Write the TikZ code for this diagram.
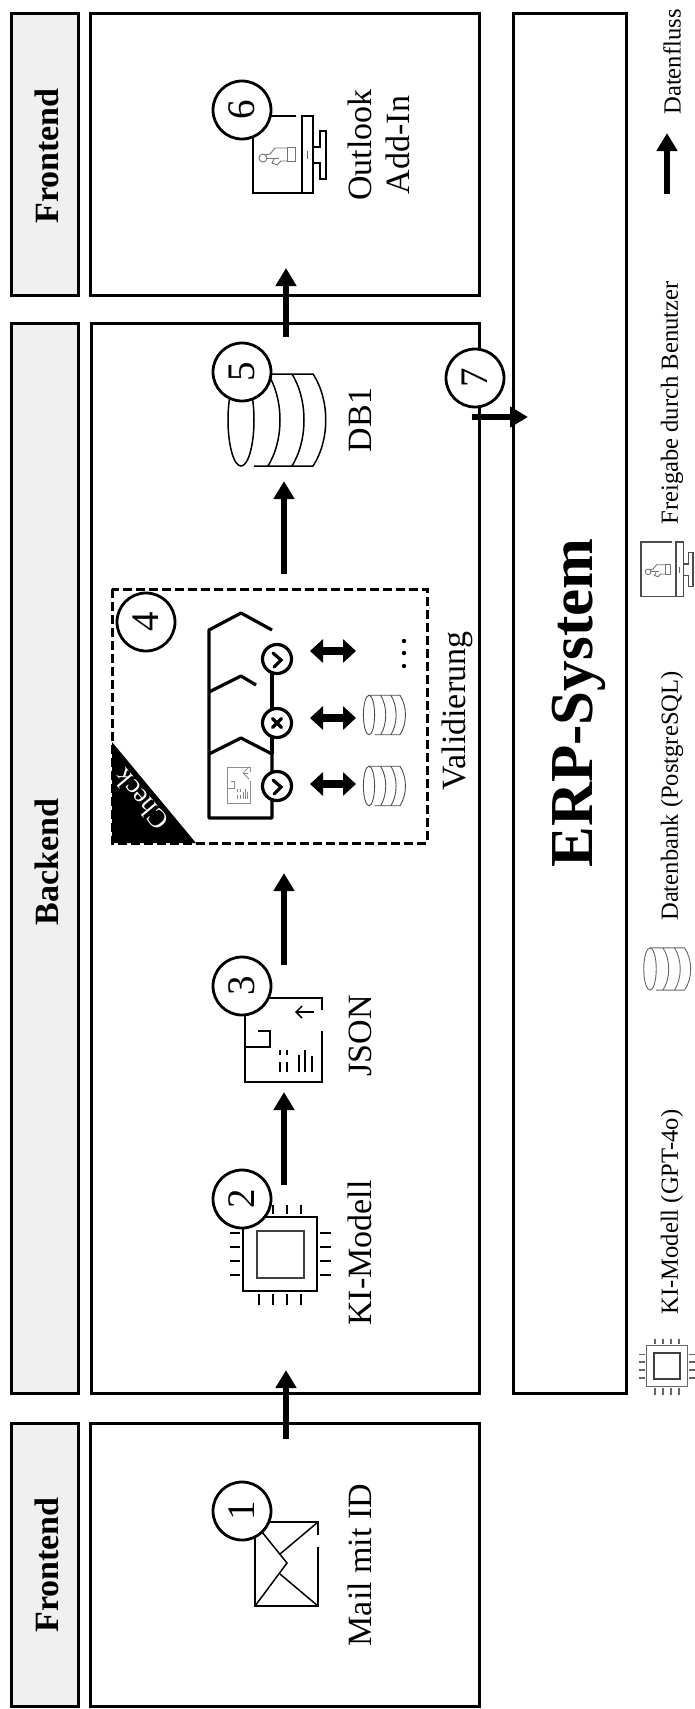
\documentclass[tikz,border=0pt]{standalone}
\usepackage{fontspec}
\setmainfont{Liberation Serif}
\usetikzlibrary{arrows.meta,shapes.geometric}
\tikzset{
  lane/.style={draw=black,line width=1.5pt,fill=white,inner sep=0pt},
  bar/.style={draw=black,line width=1.5pt,fill=black!6,inner sep=0pt},
  lbl/.style={rotate=90,inner sep=0pt,font=\fontsize{17}{19}\selectfont,align=center},
  leg/.style={rotate=90,inner sep=0pt,font=\fontsize{12.3}{14}\selectfont},
  head/.style={rotate=90,inner sep=0pt,font=\fontsize{17}{19}\selectfont\bfseries},
  numc/.style={circle,draw=black,fill=white,line width=1.4pt,minimum size=29pt,inner sep=0pt,rotate=90,font=\fontsize{19.5}{21}\selectfont},
  flow/.style={line width=2.6pt,-{Triangle[width=10pt,length=9pt]}},
  twoway/.style={line width=4.4pt,{Triangle[width=11.5pt,length=6.5pt]}-{Triangle[width=11.5pt,length=6.5pt]}},
  thin line/.style={line width=0.75pt,line join=miter},
  badge/.style={circle,draw=black,fill=white,line width=1.6pt,minimum size=14.5pt,inner sep=0pt},
  chipicon/.pic={
    \draw[thin line] (-37,-37) rectangle (37,37);
    \draw[line width=1pt,black!75] (-23.5,-23.5) rectangle (23.5,23.5);
    \foreach \o in {-21,-7,7,21}{
      \draw[thin line] (\o,-49) -- (\o,-40);
      \draw[thin line] (\o,40) -- (\o,51);
      \draw[thin line] (-50,\o) -- (-40,\o);
      \draw[thin line] (40,\o) -- (51,\o);
    }
  },
  dbicon/.pic={
    \draw (0,0) ellipse [x radius=13,y radius=46];
    \draw (0,-46) -- (72,-46) .. controls (89,-20) and (89,20) .. (72,46) -- (13,46);
    \draw (51,-46) .. controls (67,-20) and (67,20) .. (51,46);
    \draw (27,-46) .. controls (43,-20) and (43,20) .. (27,46);
  },
  moniticon/.pic={
    \draw[thin line] (43,0) -- (0,0) -- (0,77) -- (60,77);
    \draw[thin line] (49,0) rectangle (60,77);
    \draw[thin line] (60,31) -- (67,31) -- (67,15) -- (73,15) -- (73,63) -- (67,63) -- (67,47) -- (60,47);
    \draw[line width=0.5pt,black!60] (54,35) -- (54,43);
    \draw[line width=0.45pt,black!55] (34,31) rectangle (42,45);
    \draw[line width=0.45pt,black!55] (34,32) -- (22,32) -- (17,38) -- (12,39) (34,45) -- (28,45) -- (24,49) -- (19,47) -- (21,43);
    \draw[line width=0.45pt,black!55] (10,42) ellipse [x radius=4,y radius=4];
    \draw[line width=0.45pt,black!55] (14,42) -- (26,42);
  },
  jsonicon/.pic={
    \draw (77,12) -- (77,0) -- (0,0) -- (0,84) -- (77,84) -- (77,33);
    \draw (0,49) -- (25,49) -- (25,33) -- (13,33);
    \draw[-{Straight Barb[length=3pt,width=6pt]}] (69,14) -- (50,14);
    \draw (35,52) -- (35,57) (35,64) -- (35,74) (42,52) -- (42,57) (42,64) -- (42,74);
    \draw (54,57) -- (54,74) (60,52) -- (60,74) (67,58) -- (67,74);
  }
}
\begin{document}
\begin{tikzpicture}[x=0.5pt,y=-0.5pt]
\useasboundingbox (0,0) rectangle (695,1709);
% side bars
\node[bar,minimum width=33.5pt,minimum height=141pt] (barA) at (44.5,154) {};
\node[bar,minimum width=33.5pt,minimum height=535pt] (barB) at (44.5,858) {};
\node[bar,minimum width=33.5pt,minimum height=141.5pt] (barC) at (44.5,1564.5) {};
\node[head] at (46.5,156) {Frontend};
\node[head] at (46.5,862) {Backend};
\node[head] at (46.5,1565) {Frontend};
% lanes
\node[lane,minimum width=194.5pt,minimum height=141pt] (laneTop) at (284.5,154) {};
\node[lane,minimum width=194pt,minimum height=535pt] (laneMid) at (285,858) {};
\node[lane,minimum width=194.5pt,minimum height=141.5pt] (laneBot) at (284.5,1564.5) {};
\node[lane,minimum width=56.5pt,minimum height=690pt] (erp) at (569.5,703) {};
\node[rotate=90,inner sep=0pt,font=\fontsize{30.5}{32}\selectfont\bfseries] (erptext) at (579,703) {ERP-System};
% labels
\node[lbl] (tMail) at (360,1565) {Mail mit ID};
\node[lbl] (tKI) at (360,1253) {KI-Modell};
\node[lbl] (tJSON) at (360,1036) {JSON};
\node[lbl] (tVal) at (457,711) {Validierung};
\node[lbl] (tDB) at (360,420) {DB1};
\node[lbl] (tOut) at (379,145) {Outlook\\Add-In};
% envelope
\draw[thin line] (318,1535) -- (318,1522) -- (255,1522) -- (255,1606) -- (318,1606) -- (318,1547);
\draw[thin line] (318,1522) -- (280,1554);
\draw[thin line] (262,1532) -- (287,1563) -- (255,1606);
\draw[thin line] (280,1574) -- (318,1606);
% icons
\pic at (280,1254) {chipicon};
\pic[thin line] at (245,998) {jsonicon};
\pic[thin line] at (241,420) {dbicon};
\pic at (253,116) {moniticon};
% validation block
\draw[line width=1.5pt,dash pattern=on 4.5pt off 2pt] (112,589) rectangle (427,843);
\fill[black] (112,742) -- (112,843) -- (196,843) -- cycle;
\node[rotate=130,text=white,inner sep=0pt,font=\fontsize{13.5}{15}\selectfont] (chk) at (141,800) {Check};
\draw[line width=1.6pt,line join=round] (272,630) -- (241,613) -- (209,630) -- (209,818) -- (272,818) -- (272,754) -- (241,738) -- (209,754);
\draw[line width=1.6pt,line join=round] (209,692) -- (241,676) -- (256,685);
\draw[line width=1.6pt] (272,754) -- (272,659);
\node[badge] (b1) at (277,659) {};
\node[badge] (b2) at (277,723) {};
\node[badge] (b3) at (277,786) {};
\draw[line width=1.6pt,line cap=round] (273,653) -- (281,660) -- (274,667);
\draw[line width=1.6pt,line cap=round] (273,780) -- (281,787) -- (274,794);
\draw[line width=1.7pt,line cap=round] (272.5,718.5) -- (281.5,727.5) (281.5,718.5) -- (272.5,727.5);
\pic[color=black!45,line width=0.4pt,xscale=0.31,yscale=0.43] at (227,767) {jsonicon};
\coordinate (da1) at (310,651); \coordinate (db1) at (356,651);
\coordinate (da2) at (310,718); \coordinate (db2) at (356,718);
\coordinate (da3) at (310,784); \coordinate (db3) at (356,784);
\draw[twoway] (da1) -- (db1);
\draw[twoway] (da2) -- (db2);
\draw[twoway] (da3) -- (db3);
\pic[color=black!70,line width=0.45pt,scale=0.43] at (369,715) {dbicon};
\pic[color=black!70,line width=0.45pt,scale=0.43] at (369,786) {dbicon};
\fill (404,641) circle (2.2) (404,653) circle (2.2) (404,666) circle (2.2);
% numbers
\node[numc] (n1) at (242,1511) {1};
\node[numc] (n2) at (242,1199) {2};
\node[numc] (n3) at (242,986) {3};
\node[numc] (n4) at (146,622) {4};
\node[numc] (n5) at (242,372) {5};
\node[numc] (n6) at (242,110) {6};
\node[numc] (n7) at (475,378) {7};
% flow arrows
\coordinate (s1) at (286,1439); \coordinate (e1) at (286,1370);
\coordinate (s2) at (284,1185); \coordinate (e2) at (284,1092);
\coordinate (s3) at (284,965);  \coordinate (e3) at (284,873);
\coordinate (s4) at (284,574);  \coordinate (e4) at (284,481);
\coordinate (s5) at (286,337);  \coordinate (e5) at (286,268);
\coordinate (s7) at (472,417);  \coordinate (e7) at (528,417);
\draw[flow] (s1) -- (e1);
\draw[flow] (s2) -- (e2);
\draw[flow] (s3) -- (e3);
\draw[flow] (s4) -- (e4);
\draw[flow] (s5) -- (e5);
\draw[flow] (s7) -- (e7);
% legend
\pic[color=black!60,scale=0.56] at (667,1366) {chipicon};
\node[leg] (l1) at (672,1212) {KI-Modell (GPT-4o)};
\pic[color=black!60,line width=0.45pt,xscale=0.48,yscale=0.46] at (650,969) {dbicon};
\node[leg] (l2) at (672,796) {Datenbank (PostgreSQL)};
\pic[color=black!70,scale=0.71] at (641,542) {moniticon};
\node[leg] (l3) at (672,403) {Freigabe durch Benutzer};
\node[leg] (l4) at (672,62) {Datenfluss};
\coordinate (ls) at (667,194); \coordinate (le) at (667,133);
\draw[flow] (ls) -- (le);
\end{tikzpicture}
\end{document}
